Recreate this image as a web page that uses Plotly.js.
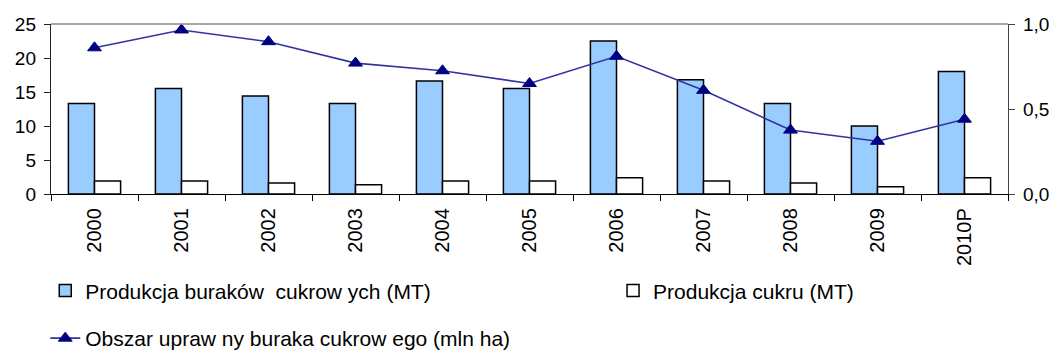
<!DOCTYPE html>
<html>
<head>
<meta charset="utf-8">
<script src="https://cdn.plot.ly/plotly-3.0.1.min.js"></script>
<style>html,body{margin:0;padding:0;background:#fff;}#chart{width:1056px;height:354px;}</style>
</head>
<body>
<div id="chart"></div>
<script>
const categories = ["2000","2001","2002","2003","2004","2005","2006","2007","2008","2009","2010P"];
const beetProduction = [13.3, 15.5, 14.4, 13.3, 16.6, 15.5, 22.5, 16.8, 13.3, 10.0, 18.0];
const sugarProduction = [1.9, 1.9, 1.6, 1.35, 1.9, 1.9, 2.4, 1.9, 1.6, 1.05, 2.4];
const beetArea = [0.86, 0.965, 0.896, 0.77, 0.725, 0.65, 0.81, 0.61, 0.376, 0.31, 0.44];
const seriesNames = ["Produkcja buraków  cukrow ych (MT)", "Produkcja cukru (MT)", "Obszar upraw ny buraka cukrow ego (mln ha)"];
const leftTicks = [0, 5, 10, 15, 20, 25];
const rightTicks = [0, 0.5, 1.0];

const FONT = "Arial, 'Liberation Sans', sans-serif";

const traces = [
  {
    type: "bar", x: categories, y: beetProduction, name: seriesNames[0],
    marker: {color: "#99ccff", line: {color: "#000000", width: 1.5}},
    legend: "legend", hoverinfo: "skip"
  },
  {
    type: "bar", x: categories, y: sugarProduction, name: seriesNames[1],
    marker: {color: "#ffffff", line: {color: "#000000", width: 1.5}},
    legend: "legend2", hoverinfo: "skip"
  },
  {
    type: "scatter", mode: "lines+markers", x: categories, y: beetArea, name: seriesNames[2],
    yaxis: "y2",
    line: {color: "#3333a0", width: 1.6},
    marker: {symbol: "triangle-up", size: 12, color: "#000080", line: {color: "#000080", width: 1}},
    legend: "legend3", hoverinfo: "skip"
  }
];

const legendBase = {orientation: "h", xanchor: "left", yanchor: "middle",
  font: {size: 21, family: FONT}, bgcolor: "rgba(0,0,0,0)"};

const layout = {
  width: 1056, height: 354,
  margin: {l: 51, r: 48, t: 24, b: 160, autoexpand: false},
  paper_bgcolor: "#ffffff", plot_bgcolor: "#ffffff",
  font: {family: FONT, color: "#000000", size: 18},
  separators: ",.",
  barmode: "group", bargap: 0.4, bargroupgap: 0,
  showlegend: true,
  xaxis: {
    type: "category", range: [-0.5, 10.5], autorange: false, tickangle: -90,
    showline: true, linecolor: "#000000", linewidth: 1.2,
    ticks: "outside", tickson: "boundaries", ticklen: 6, tickcolor: "#000000",
    ticklabelstandoff: 5,
    tickfont: {size: 20, family: FONT}, showgrid: false, zeroline: false
  },
  yaxis: {
    range: [0, 25], tickvals: leftTicks, ticktext: leftTicks.map(String),
    showline: true, linecolor: "#222222", linewidth: 1.2,
    ticks: "outside", ticklen: 6, tickcolor: "#222222", ticklabelstandoff: 4,
    tickfont: {size: 19, family: FONT}, showgrid: false, zeroline: false
  },
  yaxis2: {
    range: [0, 1], overlaying: "y", side: "right", tickvals: rightTicks, tickformat: ".1f",
    showline: true, linecolor: "#444444", linewidth: 1.2,
    ticks: "outside", ticklen: 6, tickcolor: "#444444", ticklabelstandoff: 4,
    tickfont: {size: 19, family: FONT}, showgrid: false, zeroline: false
  },
  shapes: [
    {type: "line", xref: "paper", yref: "paper", x0: 0, x1: 1, y0: 1, y1: 1, line: {color: "#888888", width: 1.5}}
  ],
  legend: Object.assign({}, legendBase, {x: -0.006, y: -0.57}),
  legend2: Object.assign({}, legendBase, {x: 0.5873, y: -0.57}),
  legend3: Object.assign({}, legendBase, {x: -0.006, y: -0.85})
};

Plotly.newPlot("chart", traces, layout, {staticPlot: true, displayModeBar: false});
</script>
</body>
</html>
